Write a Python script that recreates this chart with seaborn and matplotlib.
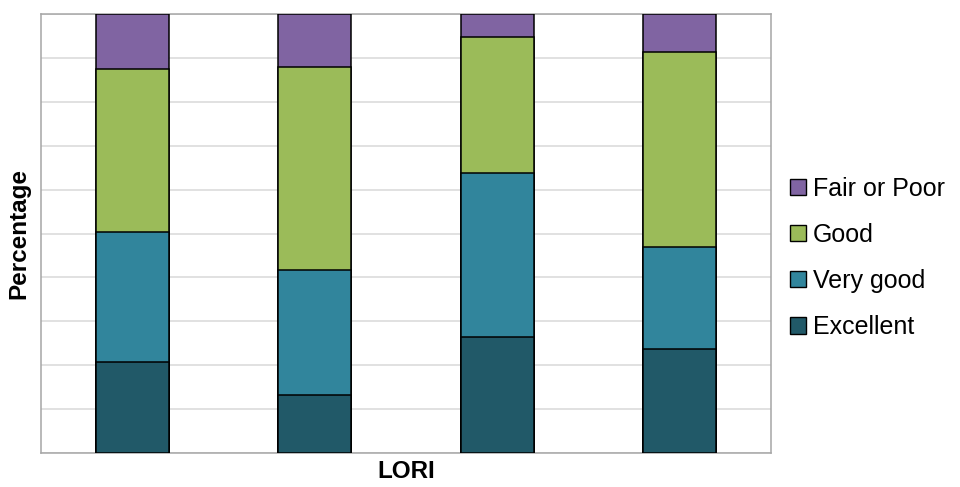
import numpy as np
import pandas as pd
import matplotlib.pyplot as plt
import seaborn as sns
from matplotlib.patches import Patch

# values (percent of each LORI group)
groups = ["1", "2", "3", "4"]
excellent = [20.8, 13.1, 26.5, 23.8]
very_good = [29.5, 28.5, 37.2, 23.1]
good = [37.1, 46.4, 31.1, 44.4]
fair_poor = [12.6, 12.0, 5.2, 8.7]

series = ["Excellent", "Very good", "Good", "Fair or Poor"]
colors = ["#215968", "#31859C", "#9BBB59", "#8064A2"]

sns.set_style("white")
plt.rcParams['font.family'] = ['Liberation Sans', 'DejaVu Sans']
plt.rcParams['text.color'] = 'black'
plt.rcParams['axes.labelcolor'] = 'black'

df = pd.DataFrame({"group": groups, "Excellent": excellent, "Very good": very_good,
                   "Good": good, "Fair or Poor": fair_poor})
# cumulative tops, drawn from the top series down so each one covers the next
cum = df[series].cumsum(axis=1)

fig = plt.figure(figsize=(9.6, 4.87), dpi=100)
ax = fig.add_axes([41/960, 1-453/487, 730/960, 439/487])

for s, c in reversed(list(zip(series, colors))):
    sns.barplot(x=df["group"], y=cum[s], color=c, width=0.4, ax=ax,
                edgecolor="black", linewidth=1.1, saturation=1, zorder=3)

ax.set_ylim(0, 100)
ax.set_xlim(-0.5, 3.5)
ax.set_yticks(np.arange(0, 101, 10))
ax.set_yticklabels([])
ax.set_xticks([])
ax.tick_params(length=0)
ax.grid(axis="y", color="#D9D9D9", linewidth=1.1, zorder=0)
ax.set_axisbelow(True)
for sp in ax.spines.values():
    sp.set_color("#A6A6A6")
    sp.set_linewidth(1.1)

ax.set_xlabel("LORI", fontsize=17.5, fontweight="bold", labelpad=5)
ax.set_ylabel("Percentage", fontsize=17.5, fontweight="bold", labelpad=4)

handles = [Patch(facecolor=c, edgecolor="black", linewidth=1.0, label=s)
           for s, c in zip(series, colors)][::-1]
fig.legend(handles=handles, loc="center left", bbox_to_anchor=(780/960, 1-258/487),
           frameon=False, fontsize=18, handlelength=0.62, handleheight=0.62,
           handletextpad=0.3, labelspacing=0.89, borderaxespad=0)

fig.savefig("out.png", dpi=100)
